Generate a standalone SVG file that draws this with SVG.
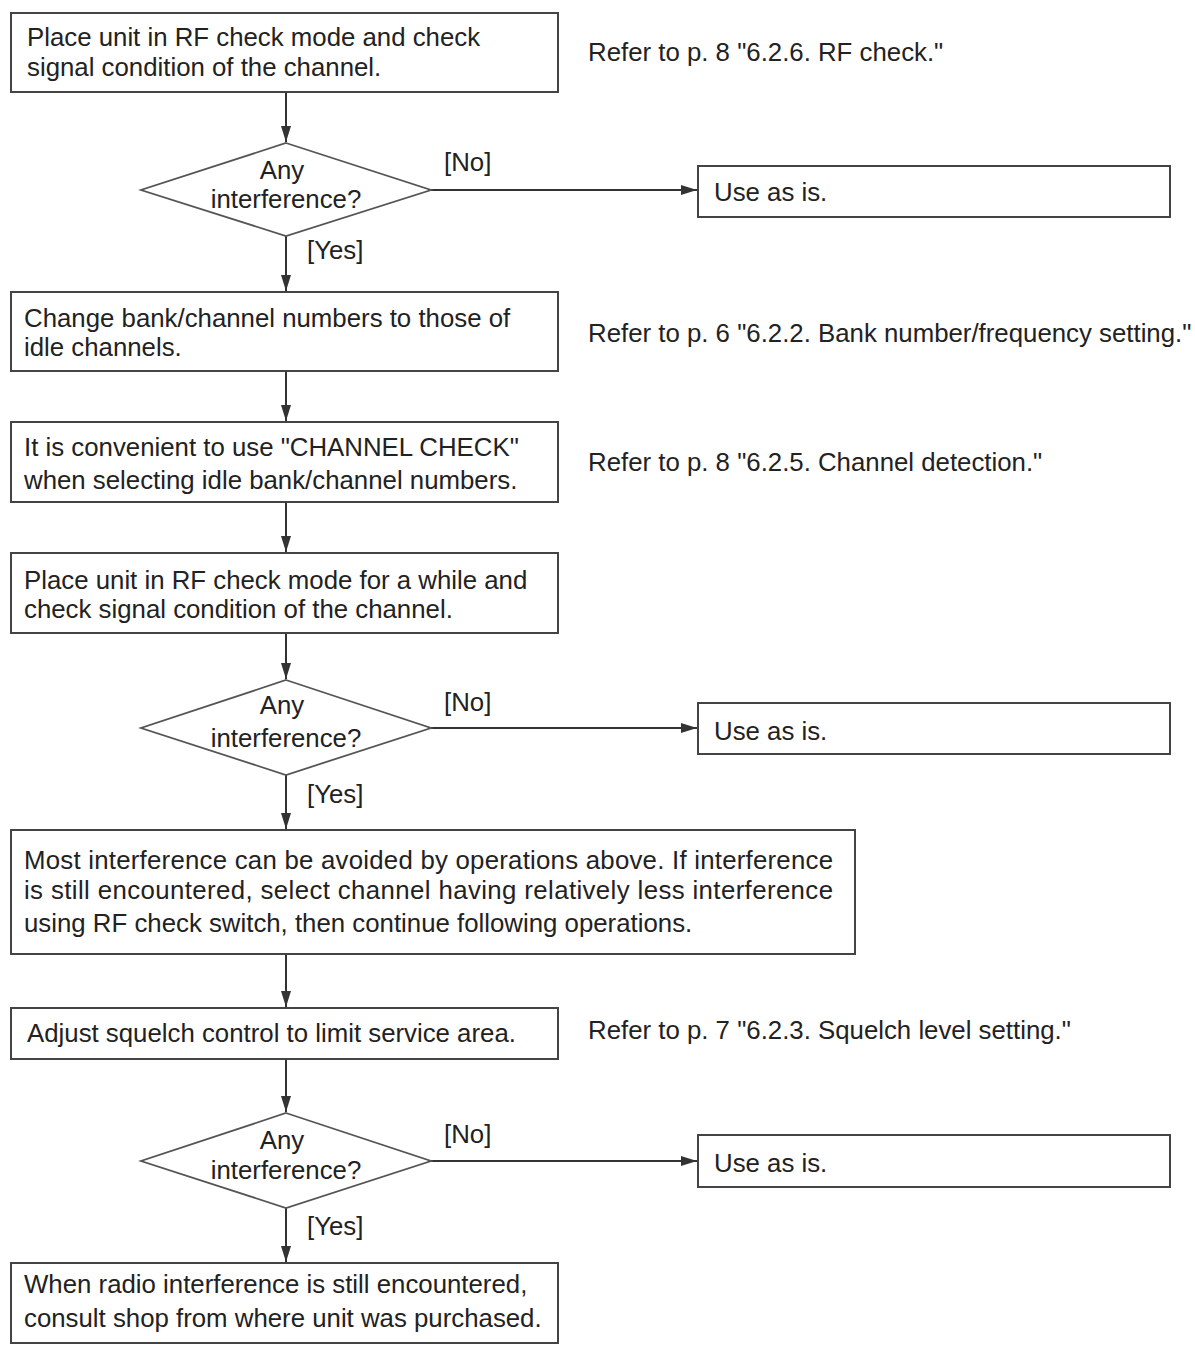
<svg xmlns="http://www.w3.org/2000/svg" width="1195" height="1351" viewBox="0 0 1195 1351">
<defs>
<marker id="ah" viewBox="0 0 16 10" refX="16" refY="5" markerWidth="16" markerHeight="10" markerUnits="userSpaceOnUse" orient="auto">
<path d="M0,0 L16,5 L0,10 z" fill="#333"/>
</marker>
<style>
.box{fill:#fff;stroke:#444;stroke-width:2}
.dia{fill:#fff;stroke:#555;stroke-width:1.8}
.t{font-family:"Liberation Sans",Arial,sans-serif;font-size:25.8px;fill:#222}
.c{text-anchor:middle}
.ln{stroke:#333;stroke-width:2;fill:none}
</style>
</defs>
<rect width="1195" height="1351" fill="#fff"/>

<g id="connectors">
<line class="ln" x1="286" y1="92" x2="286" y2="142" marker-end="url(#ah)"/>
<line class="ln" x1="431" y1="190" x2="697" y2="190" marker-end="url(#ah)"/>
<line class="ln" x1="286" y1="236" x2="286" y2="291" marker-end="url(#ah)"/>
<line class="ln" x1="286" y1="371" x2="286" y2="421" marker-end="url(#ah)"/>
<line class="ln" x1="286" y1="502" x2="286" y2="552" marker-end="url(#ah)"/>
<line class="ln" x1="286" y1="633" x2="286" y2="679" marker-end="url(#ah)"/>
<line class="ln" x1="431" y1="728" x2="697" y2="728" marker-end="url(#ah)"/>
<line class="ln" x1="286" y1="775" x2="286" y2="829" marker-end="url(#ah)"/>
<line class="ln" x1="286" y1="954" x2="286" y2="1007" marker-end="url(#ah)"/>
<line class="ln" x1="286" y1="1059" x2="286" y2="1112" marker-end="url(#ah)"/>
<line class="ln" x1="431" y1="1161" x2="697" y2="1161" marker-end="url(#ah)"/>
<line class="ln" x1="286" y1="1208" x2="286" y2="1262" marker-end="url(#ah)"/>
<text class="t" x="444" y="171">[No]</text>
<text class="t" x="307" y="259">[Yes]</text>
<text class="t" x="444" y="711">[No]</text>
<text class="t" x="307" y="803">[Yes]</text>
<text class="t" x="444" y="1143">[No]</text>
<text class="t" x="307" y="1235">[Yes]</text>
</g>

<g id="n1">
<rect class="box" x="11" y="13" width="547" height="79"/>
<text class="t" x="27" y="46">Place unit in RF check mode and check</text>
<text class="t" x="27" y="76">signal condition of the channel.</text>
</g>
<g id="r1"><text class="t" x="588" y="61">Refer to p. 8 "6.2.6. RF check."</text></g>

<g id="d1">
<polygon class="dia" points="286,143 431,190 286,236 141,190"/>
<text class="t c" x="282" y="179">Any</text>
<text class="t c" x="286" y="208">interference?</text>
</g>
<g id="u1">
<rect class="box" x="698" y="166" width="472" height="51"/>
<text class="t" x="714" y="201">Use as is.</text>
</g>

<g id="n2">
<rect class="box" x="11" y="292" width="547" height="79"/>
<text class="t" x="24" y="327">Change bank/channel numbers to those of</text>
<text class="t" x="24" y="356">idle channels.</text>
</g>
<g id="r2"><text class="t" x="588" y="342">Refer to p. 6 "6.2.2. Bank number/frequency setting."</text></g>

<g id="n3">
<rect class="box" x="11" y="422" width="547" height="80"/>
<text class="t" x="24" y="456">It is convenient to use "CHANNEL CHECK"</text>
<text class="t" x="24" y="489">when selecting idle bank/channel numbers.</text>
</g>
<g id="r3"><text class="t" x="588" y="471">Refer to p. 8 "6.2.5. Channel detection."</text></g>

<g id="n4">
<rect class="box" x="11" y="553" width="547" height="80"/>
<text class="t" x="24" y="589">Place unit in RF check mode for a while and</text>
<text class="t" x="24" y="618">check signal condition of the channel.</text>
</g>

<g id="d2">
<polygon class="dia" points="286,680 431,728 286,775 141,728"/>
<text class="t c" x="282" y="714">Any</text>
<text class="t c" x="286" y="747">interference?</text>
</g>
<g id="u2">
<rect class="box" x="698" y="703" width="472" height="51"/>
<text class="t" x="714" y="740">Use as is.</text>
</g>

<g id="n5">
<rect class="box" x="11" y="830" width="844" height="124"/>
<text class="t" x="24" y="869" textLength="809" lengthAdjust="spacing">Most interference can be avoided by operations above. If interference</text>
<text class="t" x="24" y="899" textLength="809" lengthAdjust="spacing">is still encountered, select channel having relatively less interference</text>
<text class="t" x="24" y="932">using RF check switch, then continue following operations.</text>
</g>

<g id="n6">
<rect class="box" x="11" y="1008" width="547" height="51"/>
<text class="t" x="27" y="1042">Adjust squelch control to limit service area.</text>
</g>
<g id="r6"><text class="t" x="588" y="1039">Refer to p. 7 "6.2.3. Squelch level setting."</text></g>

<g id="d3">
<polygon class="dia" points="286,1113 431,1161 286,1208 141,1161"/>
<text class="t c" x="282" y="1149">Any</text>
<text class="t c" x="286" y="1179">interference?</text>
</g>
<g id="u3">
<rect class="box" x="698" y="1135" width="472" height="52"/>
<text class="t" x="714" y="1172">Use as is.</text>
</g>

<g id="n7">
<rect class="box" x="11" y="1263" width="547" height="80"/>
<text class="t" x="24" y="1293">When radio interference is still encountered,</text>
<text class="t" x="24" y="1327">consult shop from where unit was purchased.</text>
</g>
</svg>
